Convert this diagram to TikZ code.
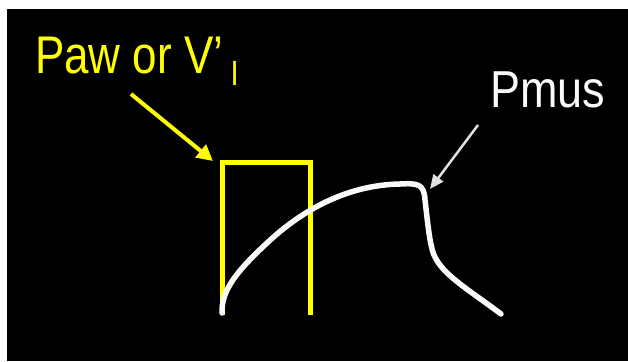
\documentclass[tikz,border=0pt]{standalone}
\usepackage{fontspec}
\setmainfont{Liberation Sans}
\usetikzlibrary{arrows.meta}
\definecolor{ylw}{RGB}{255,255,0}
\definecolor{wht}{RGB}{250,250,250}
\definecolor{arrgray}{RGB}{225,225,225}
\tikzset{
  lbl/.style={inner sep=0pt, outer sep=0pt, anchor=base west},
  yline/.style={draw=ylw, line width=5pt},
  curve/.style={draw=wht, line width=5.5pt, line cap=round, line join=round},
  yarrow/.style={draw=ylw, line width=4pt, -{Triangle[length=16pt,width=16pt]}},
  warrow/.style={draw=arrgray, line width=2.5pt, -{Triangle[length=14pt,width=12pt]}}
}
\begin{document}
\begin{tikzpicture}[x=1pt,y=-1pt]
\useasboundingbox (0,0) rectangle (628,361);
\fill[white] (0,0) rectangle (628,361);
\fill[black] (7,9) rectangle (628,361);
% labels
\node[lbl, text=ylw] (paw) at (35,73) {\scalebox{0.83}[1]{\fontsize{53}{53}\selectfont Paw or V’\hspace{9pt}\raisebox{-12pt}{\fontsize{35}{35}\selectfont I}}};
\node[lbl, text=wht] (pmus) at (490,107) {\scalebox{0.865}[1]{\fontsize{52}{52}\selectfont Pmus}};
% yellow step
\coordinate (r1) at (222.5,315);
\coordinate (r2) at (222.5,162.5);
\coordinate (r3) at (310.5,162.5);
\coordinate (r4) at (310.5,315);
\draw[yline] (r1) -- (r2) -- (r3) -- (r4);
% white curve
\coordinate (c0) at (222,313);
\coordinate (c1) at (267,243);
\coordinate (c2) at (400,184);
\coordinate (c3) at (425,200);
\coordinate (c4) at (436,259);
\coordinate (c5) at (501,314);
\draw[curve] (c0) .. controls (221,290) and (238,270) .. (c1)
  .. controls (300,212) and (345,185) .. (c2)
  .. controls (418,183) and (424,184) .. (c3)
  .. controls (428,225) and (430,250) .. (c4)
  .. controls (446,277) and (472,292) .. (c5);
% arrows
\coordinate (ya) at (131,94);
\coordinate (yb) at (213,161);
\draw[yarrow] (ya) -- (yb);
\coordinate (wa) at (478,125);
\coordinate (wb) at (430,189);
\draw[warrow] (wa) -- (wb);
\end{tikzpicture}
\end{document}
